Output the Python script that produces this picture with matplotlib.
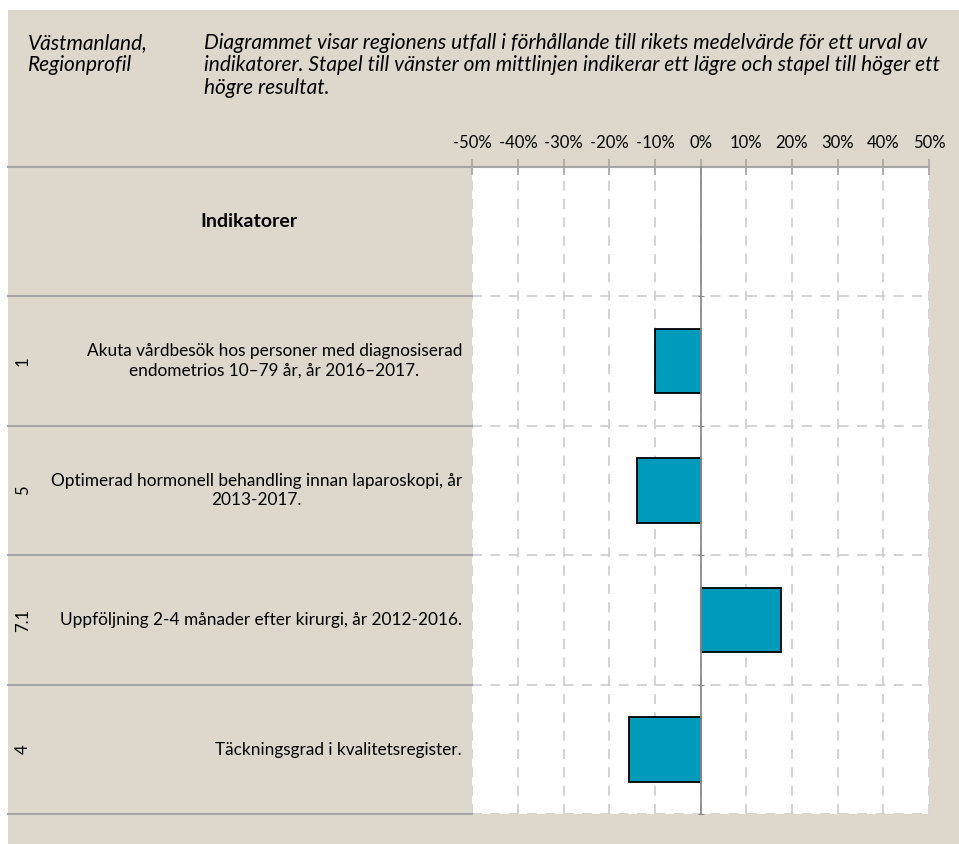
import matplotlib
matplotlib.use("Agg")
from matplotlib import pyplot as plt
from matplotlib import transforms
from matplotlib.lines import Line2D
from matplotlib.patches import Rectangle
from matplotlib.ticker import FuncFormatter

W, H = 959, 844

# indicator rows, top to bottom
row_ids = ["1", "5", "7.1", "4"]
row_labels = [
    "Akuta vårdbesök hos personer med diagnosiserad\nendometrios 10–79 år, år 2016–2017.",
    "Optimerad hormonell behandling innan laparoskopi, år\n2013-2017.",
    "Uppföljning 2-4 månader efter kirurgi, år 2012-2016.",
    "Täckningsgrad i kvalitetsregister.",
]
values = [-0.099, -0.139, 0.177, -0.157]
x_ticks = [-0.5, -0.4, -0.3, -0.2, -0.1, 0.0, 0.1, 0.2, 0.3, 0.4, 0.5]

region = "Västmanland,\nRegionprofil"
intro = ("Diagrammet visar regionens utfall i förhållande till rikets medelvärde för ett urval av\n"
         "indikatorer. Stapel till vänster om mittlinjen indikerar ett lägre och stapel till höger ett\n"
         "högre resultat.")

BEIGE = "#ddd7cc"
BAR = "#009bba"
LINE = "#a6a6a6"
GRID = "#cccccc"

plt.rcParams['font.family'] = ['Lato', 'DejaVu Sans']


def fx(x):
    return x / W


def fy(y):
    return 1 - y / H


fig = plt.figure(figsize=(W / 100, H / 100), dpi=100, facecolor="white")
fig.patches.append(Rectangle((fx(8), 0), 1 - fx(8), fy(10), transform=fig.transFigure,
                             facecolor=BEIGE, edgecolor="none", zorder=-5))

top, bottom = 166.7, 814.3
ax = fig.add_axes([fx(472.3), fy(bottom), fx(929) - fx(472.3), (bottom - top) / H])
ax.set_facecolor("white")
ax.set_zorder(1)

n_rows = len(row_ids) + 1  # first row is the header
ypos = [i + 1.5 for i in range(len(row_ids))]
ax.barh(ypos, values, height=0.5, color=BAR, edgecolor="black", linewidth=1.3, zorder=3)

ax.set_xlim(-0.5, 0.5)
ax.set_ylim(n_rows, 0)
ax.set_xticks(x_ticks)
ax.xaxis.set_major_formatter(FuncFormatter(lambda v, p: f"{v * 100:.0f}%"))
ax.xaxis.tick_top()
ax.tick_params(axis="x", direction="inout", length=11, width=1.2, color=LINE, pad=6,
               labelsize=12)
ax.set_yticks(range(1, n_rows + 1))
ax.set_yticklabels([])
ax.tick_params(axis="y", direction="inout", length=5, color="#888888")

for s in ["right", "bottom"]:
    ax.spines[s].set_visible(False)
ax.spines["top"].set_color(LINE)
ax.spines["top"].set_linewidth(1.5)
ax.spines["left"].set_position(("data", 0))
ax.spines["left"].set_color("#8c8c8c")
ax.spines["left"].set_linewidth(1.3)
ax.spines["left"].set_zorder(4)

for xv in x_ticks:
    ax.axvline(xv, color=GRID, linestyle=(0, (6, 5)), linewidth=1.2, zorder=1)
for yv in range(1, n_rows + 1):
    ax.axhline(yv, color=GRID, linestyle=(0, (6, 5)), linewidth=1.2, zorder=1)

# left table lines
for k in range(n_rows + 1):
    y = top + k * (bottom - top) / n_rows
    fig.add_artist(Line2D([fx(8), fx(472.3)], [fy(y), fy(y)], transform=fig.transFigure,
                          color=LINE, linewidth=1.5, zorder=2))

tr = transforms.blended_transform_factory(fig.transFigure, ax.transData)
ax.text(fx(249), 0.42, "Indikatorer", transform=tr, ha="center", va="center",
        fontsize=14, fontweight="bold")
for i, (rid, lab) in enumerate(zip(row_ids, row_labels)):
    ax.text(fx(23), ypos[i], rid, transform=tr, rotation=90, ha="center", va="center",
            fontsize=12)
    ax.text(fx(462), ypos[i], lab, transform=tr, ha="right", va="center",
            multialignment="center", fontsize=12.4, linespacing=1.3)

fig.text(fx(28), fy(33), region, ha="left", va="top", fontsize=15, style="italic",
         linespacing=1.15)
fig.text(fx(204), fy(33), intro, ha="left", va="top", fontsize=15, style="italic",
         linespacing=1.15)

fig.savefig("out.png", dpi=100, facecolor=fig.get_facecolor())
